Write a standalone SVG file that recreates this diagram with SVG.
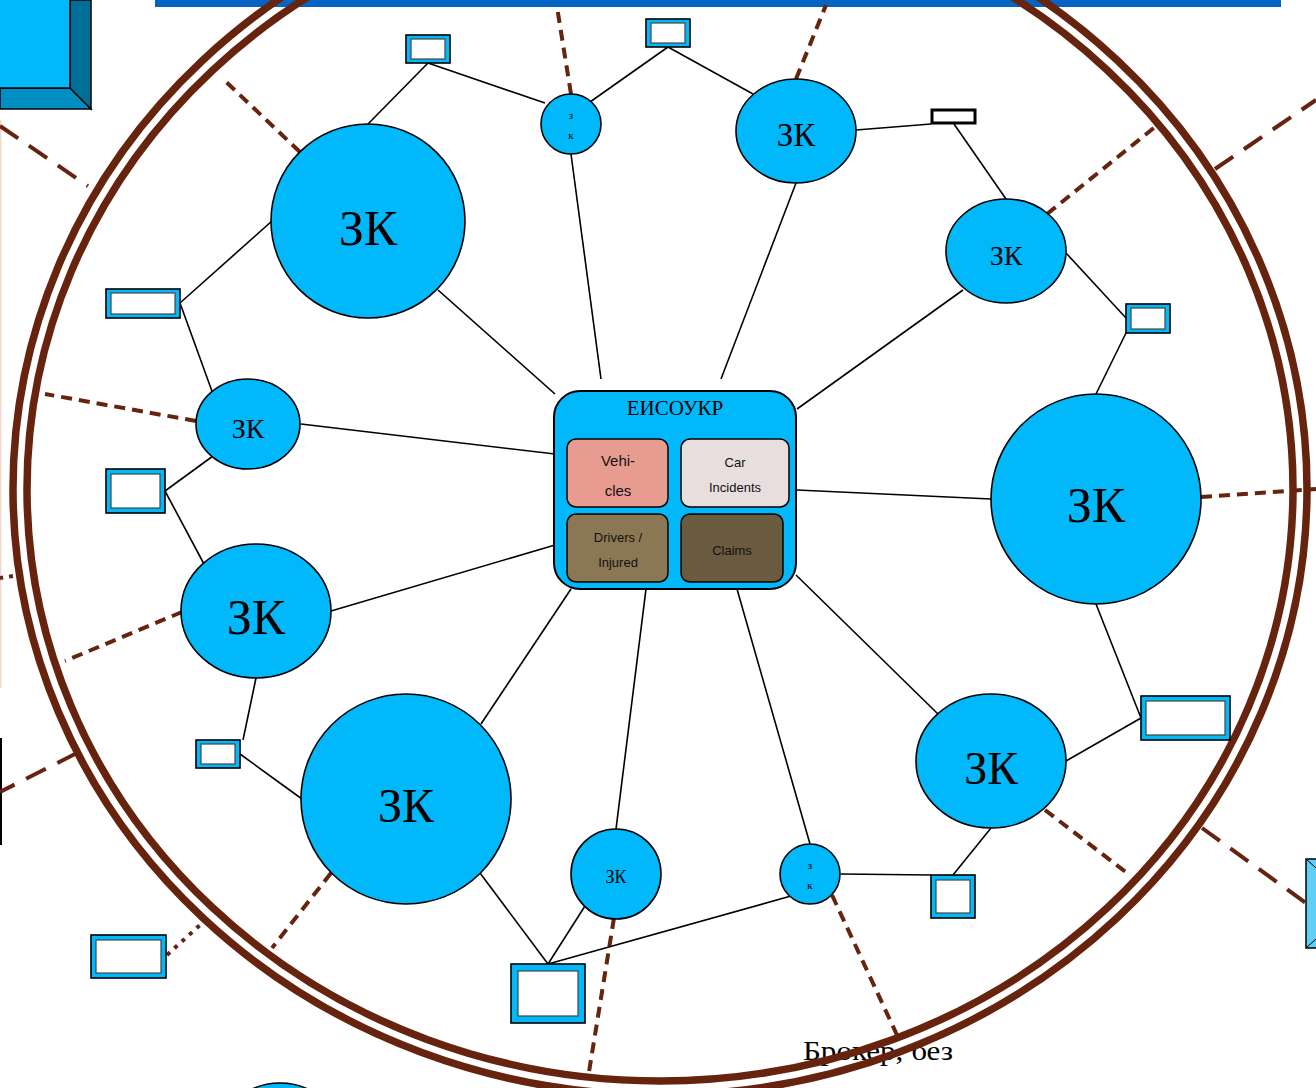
<svg xmlns="http://www.w3.org/2000/svg" width="1316" height="1088" viewBox="0 0 1316 1088">
<style>
.ring{fill:none;stroke:#66230E;stroke-width:7.5}
.dash{fill:none;stroke:#66230E;stroke-width:4;stroke-dasharray:11 7}
.ldash{fill:none;stroke:#66230E;stroke-width:4;stroke-dasharray:22 13}
.dot{fill:none;stroke:#66230E;stroke-width:4;stroke-dasharray:4 6}
.con{fill:none;stroke:#000;stroke-width:1.6}
.nd{fill:#00B8FA;stroke:#000;stroke-width:1.6}
.lbl{font-family:"Liberation Serif","DejaVu Serif",serif;fill:#000;text-anchor:middle}
.bo{fill:#00B8FA;stroke:#000;stroke-width:1.6}
.bi{fill:#fff;stroke:#444;stroke-width:1.2}
.sub{stroke:#000;stroke-width:1.5}
.st{font-family:"Liberation Sans",Arial,sans-serif;fill:#111;text-anchor:middle}
</style>
<rect x="155" y="0" width="1126" height="7" fill="#0563C1"/>
<g id="topleft-box">
<polygon points="0,88 70,88 91,109 0,109" fill="#008FC2" stroke="#000" stroke-width="1.5"/>
<polygon points="70,0 91,0 91,109 70,88" fill="#006F98" stroke="#000" stroke-width="1.5"/>
<rect x="-5" y="-5" width="75" height="93" fill="#00B8FA" stroke="#000" stroke-width="1.5"/>
</g>
<g id="right-box">
<rect x="1306" y="859" width="14" height="89" fill="#5FCFF5" stroke="#000" stroke-width="1.5"/>
<line x1="1306" y1="859" x2="1316" y2="868" stroke="#000" stroke-width="1"/>
<line x1="1306" y1="948" x2="1316" y2="939" stroke="#000" stroke-width="1"/>
</g>
<line x1="0.5" y1="120" x2="0.5" y2="688" stroke="#F7D3C6" stroke-width="1.5"/>
<line x1="1" y1="738" x2="1" y2="845" stroke="#000" stroke-width="2"/>
<circle cx="280" cy="1148" r="65" class="nd"/>
<text x="803" y="1060" font-family="'Liberation Serif','DejaVu Serif',serif" font-size="28" textLength="150" lengthAdjust="spacingAndGlyphs" fill="#000">Брокер, без</text>
<g id="rings">
<ellipse cx="660" cy="489" rx="647" ry="606" class="ring"/>
<ellipse cx="660" cy="489" rx="633" ry="592" class="ring"/>
</g>
<g id="spokes">
<line x1="300" y1="152" x2="222" y2="78" class="dash"/>
<line x1="571" y1="94" x2="557" y2="7" class="dash"/>
<line x1="796" y1="79" x2="826" y2="5" class="dash"/>
<line x1="1047" y1="214" x2="1155" y2="127" class="dash"/>
<line x1="1215" y1="169" x2="1316" y2="100" class="ldash"/>
<line x1="196" y1="421" x2="45" y2="394" class="dash"/>
<line x1="13" y1="576" x2="0" y2="578" class="dot"/>
<line x1="182" y1="612" x2="65" y2="661" class="dash"/>
<line x1="77" y1="753" x2="0" y2="792" class="ldash"/>
<line x1="331" y1="873" x2="272" y2="948" class="dash"/>
<line x1="167" y1="955" x2="200" y2="925" class="dot"/>
<line x1="614" y1="918" x2="588" y2="1078" class="dash"/>
<line x1="832" y1="895" x2="897" y2="1035" class="dash"/>
<line x1="1045" y1="810" x2="1127" y2="873" class="dash"/>
<line x1="1202" y1="828" x2="1306" y2="903" class="ldash"/>
<line x1="1201" y1="497" x2="1316" y2="489" class="dash"/>
<line x1="0" y1="126" x2="88" y2="186" class="ldash"/>
</g>
<g id="connectors">
<line x1="428" y1="63" x2="368" y2="124" class="con"/>
<line x1="428" y1="63" x2="545" y2="103" class="con"/>
<line x1="668" y1="47" x2="590" y2="102" class="con"/>
<line x1="668" y1="47" x2="753" y2="94" class="con"/>
<line x1="856" y1="130" x2="931" y2="124" class="con"/>
<line x1="954" y1="124" x2="1006" y2="199" class="con"/>
<line x1="1066" y1="253" x2="1126" y2="318" class="con"/>
<line x1="1126" y1="333" x2="1096" y2="394" class="con"/>
<line x1="272" y1="221" x2="180" y2="303" class="con"/>
<line x1="180" y1="303" x2="213" y2="394" class="con"/>
<line x1="213" y1="456" x2="165" y2="491" class="con"/>
<line x1="165" y1="491" x2="204" y2="564" class="con"/>
<line x1="256" y1="678" x2="243" y2="740" class="con"/>
<line x1="240" y1="754" x2="302" y2="799" class="con"/>
<line x1="480" y1="873" x2="548" y2="964" class="con"/>
<line x1="585" y1="906" x2="548" y2="964" class="con"/>
<line x1="791" y1="896" x2="548" y2="964" class="con"/>
<line x1="841" y1="874" x2="931" y2="875" class="con"/>
<line x1="953" y1="875" x2="991" y2="828" class="con"/>
<line x1="1066" y1="761" x2="1141" y2="718" class="con"/>
<line x1="1141" y1="718" x2="1096" y2="604" class="con"/>
<line x1="438" y1="290" x2="555" y2="394" class="con"/>
<line x1="571" y1="154" x2="601" y2="379" class="con"/>
<line x1="796" y1="183" x2="721" y2="379" class="con"/>
<line x1="963" y1="290" x2="797" y2="409" class="con"/>
<line x1="301" y1="424" x2="555" y2="454" class="con"/>
<line x1="991" y1="499" x2="797" y2="490" class="con"/>
<line x1="331" y1="611" x2="555" y2="545" class="con"/>
<line x1="481" y1="724" x2="571" y2="589" class="con"/>
<line x1="616" y1="829" x2="646" y2="589" class="con"/>
<line x1="810" y1="844" x2="737" y2="589" class="con"/>
<line x1="938" y1="714" x2="796" y2="575" class="con"/>
</g>
<g id="boxes">
<g id="b1"><rect x="406" y="35" width="44" height="28" class="bo"/><rect x="411" y="39" width="34" height="20" class="bi"/></g>
<g id="b2"><rect x="646" y="19" width="44" height="28" class="bo"/><rect x="651" y="23" width="34" height="20" class="bi"/></g>
<g id="b3"><rect x="932" y="110" width="43" height="13" fill="#fff" stroke="#000" stroke-width="3"/></g>
<g id="b4"><rect x="106" y="289" width="74" height="29" class="bo"/><rect x="111" y="293" width="64" height="21" class="bi"/></g>
<g id="b5"><rect x="1126" y="304" width="44" height="29" class="bo"/><rect x="1131" y="308" width="34" height="21" class="bi"/></g>
<g id="b6"><rect x="106" y="469" width="59" height="44" class="bo"/><rect x="111" y="474" width="49" height="34" class="bi"/></g>
<g id="b7"><rect x="196" y="740" width="44" height="28" class="bo"/><rect x="201" y="744" width="34" height="20" class="bi"/></g>
<g id="b8"><rect x="1141" y="696" width="89" height="44" class="bo"/><rect x="1146" y="701" width="79" height="34" class="bi"/></g>
<g id="b9"><rect x="931" y="875" width="44" height="43" class="bo"/><rect x="936" y="880" width="34" height="33" class="bi"/></g>
<g id="b10"><rect x="91" y="935" width="75" height="43" class="bo"/><rect x="96" y="940" width="65" height="33" class="bi"/></g>
<g id="b11"><rect x="511" y="964" width="74" height="59" class="bo"/><rect x="518" y="971" width="60" height="45" class="bi"/></g>
</g>
<g id="nodeA"><circle cx="368" cy="221" r="97" class="nd"/><text x="368" y="245" class="lbl" font-size="50">ЗК</text></g>
<g id="nodeB"><circle cx="571" cy="124" r="30" class="nd"/><text x="571" y="119" class="lbl" font-size="11">з</text><text x="571" y="139" class="lbl" font-size="11">к</text></g>
<g id="nodeC"><ellipse cx="796" cy="131" rx="60" ry="52" class="nd"/><text x="796" y="146" class="lbl" font-size="33">ЗК</text></g>
<g id="nodeD"><ellipse cx="1006" cy="251" rx="60" ry="52" class="nd"/><text x="1006" y="265" class="lbl" font-size="28">ЗК</text></g>
<g id="nodeE"><ellipse cx="248" cy="424" rx="52" ry="45" class="nd"/><text x="248" y="438" class="lbl" font-size="28">ЗК</text></g>
<g id="nodeF"><circle cx="1096" cy="499" r="105" class="nd"/><text x="1096" y="522" class="lbl" font-size="50">ЗК</text></g>
<g id="nodeG"><ellipse cx="256" cy="611" rx="75" ry="67" class="nd"/><text x="256" y="634" class="lbl" font-size="50">ЗК</text></g>
<g id="nodeH"><circle cx="406" cy="799" r="105" class="nd"/><text x="406" y="822" class="lbl" font-size="48">ЗК</text></g>
<g id="nodeI"><circle cx="616" cy="874" r="45" class="nd"/><text x="616" y="883" class="lbl" font-size="18">ЗК</text></g>
<g id="nodeJ"><circle cx="810" cy="874" r="30" class="nd"/><text x="810" y="869" class="lbl" font-size="11">з</text><text x="810" y="889" class="lbl" font-size="11">к</text></g>
<g id="nodeK"><ellipse cx="991" cy="761" rx="75" ry="67" class="nd"/><text x="991" y="784" class="lbl" font-size="46">ЗК</text></g>
<g id="center">
<rect x="554" y="391" width="242" height="198" rx="26" fill="#00B8FA" stroke="#000" stroke-width="2"/>
<text x="675" y="415" class="lbl" font-size="21">ЕИСОУКР</text>
<rect x="567" y="439" width="101" height="68" rx="9" fill="#E89C90" class="sub"/>
<text x="618" y="466" class="st" font-size="15">Vehi-</text>
<text x="618" y="496" class="st" font-size="15">cles</text>
<rect x="681" y="439" width="108" height="68" rx="9" fill="#E8DEDE" class="sub"/>
<text x="735" y="467" class="st" font-size="13">Car</text>
<text x="735" y="492" class="st" font-size="13">Incidents</text>
<rect x="567" y="514" width="101" height="68" rx="9" fill="#8B7753" class="sub"/>
<text x="618" y="542" class="st" font-size="13">Drivers /</text>
<text x="618" y="567" class="st" font-size="13">Injured</text>
<rect x="681" y="514" width="102" height="68" rx="9" fill="#6A5B40" class="sub"/>
<text x="732" y="555" class="st" font-size="13">Claims</text>
</g>
</svg>
